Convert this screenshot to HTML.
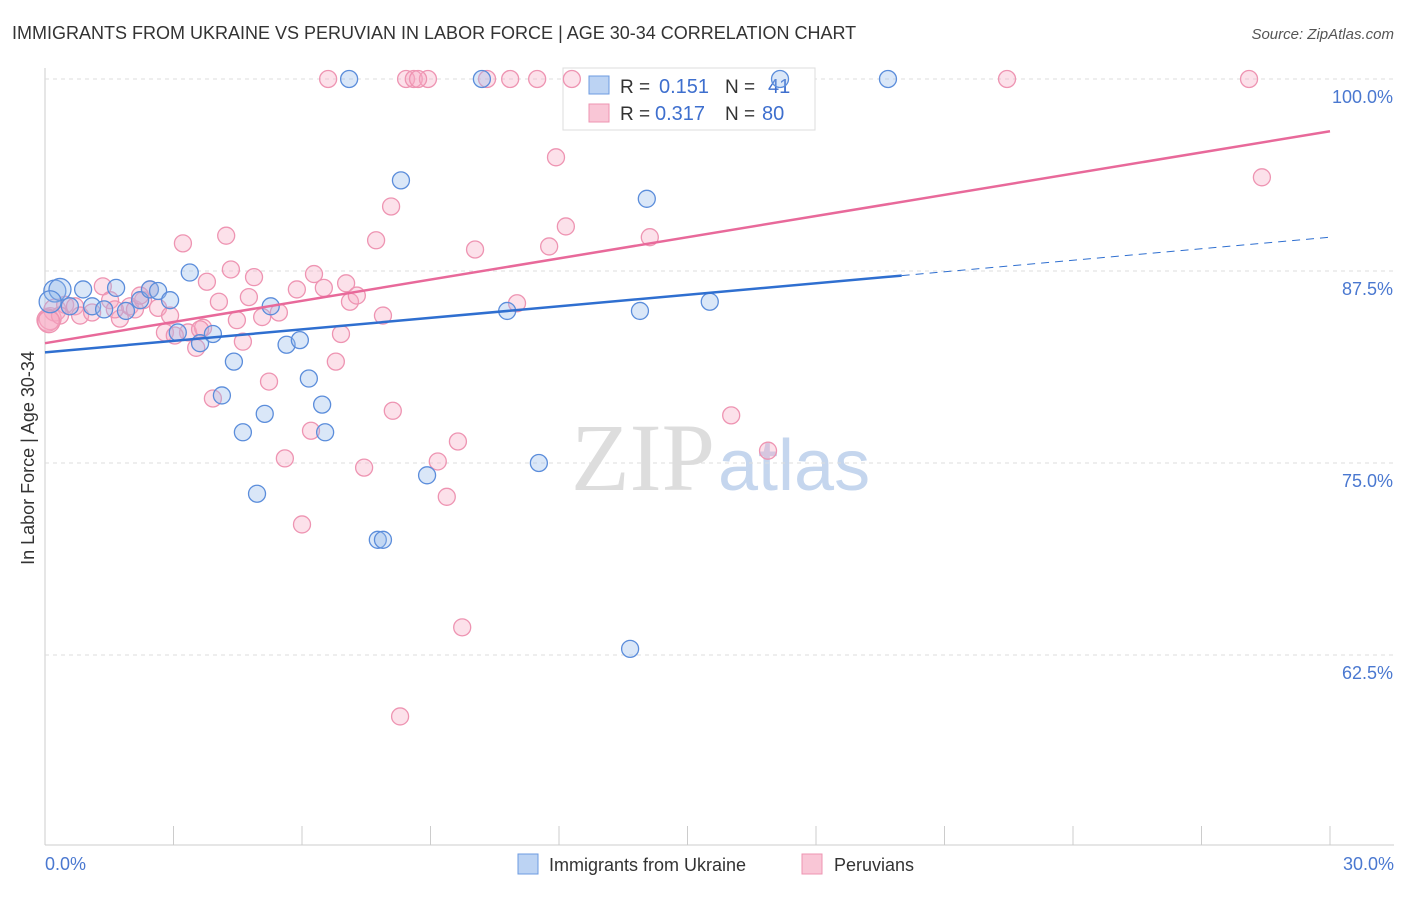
<!DOCTYPE html>
<html><head><meta charset="utf-8"><style>
body{margin:0;background:#fff;font-family:"Liberation Sans",sans-serif}
</style></head><body>
<svg id="c" width="1406" height="892" xmlns="http://www.w3.org/2000/svg">
<text x="12" y="39" font-size="18" fill="#333">IMMIGRANTS FROM UKRAINE VS PERUVIAN IN LABOR FORCE | AGE 30-34 CORRELATION CHART</text>
<text x="1394" y="39" font-size="15" fill="#555" font-style="italic" text-anchor="end">Source: ZipAtlas.com</text>
<text x="715" y="490" font-size="96" fill="#ddd" text-anchor="end" font-family="Liberation Serif">ZIP</text>
<text x="718" y="490" font-size="72" fill="#c5d6ee">atlas</text>
<g id="grid"></g>
<g>
<rect x="563" y="68" width="252" height="62" fill="#fff" stroke="#ddd"/>
<rect x="589" y="76" width="20" height="18" fill="#bcd3f3" stroke="#6d9be0"/>
<rect x="589" y="104" width="20" height="18" fill="#f9c6d6" stroke="#ee94b2"/>
<text x="620" y="93" font-size="19" fill="#333">R =</text>
<text x="659" y="93" font-size="20" fill="#3e6fce">0.151</text>
<text x="725" y="93" font-size="19" fill="#333">N =</text>
<text x="768" y="93" font-size="20" fill="#3e6fce">41</text>
<text x="620" y="120" font-size="19" fill="#333">R =</text>
<text x="655" y="120" font-size="20" fill="#3e6fce">0.317</text>
<text x="725" y="120" font-size="19" fill="#333">N =</text>
<text x="762" y="120" font-size="20" fill="#3e6fce">80</text>
</g>
<g id="pts"></g><g id="lines"></g>
<text transform="translate(34,458) rotate(-90)" font-size="18" fill="#333" text-anchor="middle">In Labor Force | Age 30-34</text>
<text x="45" y="870" font-size="18" fill="#4a78d0">0.0%</text>
<text x="1394" y="870" font-size="18" fill="#4a78d0" text-anchor="end">30.0%</text>
<g>
<rect x="518" y="854" width="20" height="20" fill="#bcd3f3" stroke="#6d9be0"/>
<text x="549" y="871" font-size="18" fill="#333">Immigrants from Ukraine</text>
<rect x="802" y="854" width="20" height="20" fill="#f9c6d6" stroke="#ee94b2"/>
<text x="834" y="871" font-size="18" fill="#333">Peruvians</text>
</g>
</svg>
<script>
const yTicks=[100,87.5,75,62.5];
const xTickCount=10;
const ukraineX=[0.23,0.35,0.58,0.89,1.10,1.38,1.66,1.89,2.22,2.45,2.64,2.92,3.10,3.38,3.62,3.92,4.13,4.41,4.62,4.95,5.13,5.27,5.64,5.95,6.16,6.47,6.54,7.1,7.77,7.89,8.31,8.92,10.2,10.79,11.53,13.66,13.89,14.05,15.52,17.16,19.68,0.12];
const ukraineY=[86.2,86.3,85.2,86.3,85.2,85.0,86.4,84.9,85.6,86.3,86.2,85.6,83.5,87.4,82.8,83.4,79.4,81.6,77.0,73.0,78.2,85.2,82.7,83.0,80.5,78.8,77.0,100,70.0,70.0,93.4,74.2,100,84.9,75.0,62.9,84.9,92.2,85.5,100,100,85.5];
const peruX=[0.12,0.23,0.47,0.70,0.82,1.10,1.35,1.52,1.75,1.98,2.10,2.29,2.45,2.64,2.80,2.92,3.22,3.34,3.53,3.69,3.78,3.92,4.06,4.23,4.34,4.48,4.62,4.76,4.88,5.07,5.23,5.46,5.60,5.88,6.00,6.21,6.28,6.51,6.61,6.79,6.91,7.03,7.12,7.28,7.45,7.73,7.89,8.08,8.12,8.29,8.43,8.61,8.94,9.17,9.38,9.64,9.74,10.04,10.32,10.86,11.02,11.49,11.77,11.93,12.16,12.30,14.12,16.02,16.88,22.46,28.11,28.41,0.07,0.35,1.63,2.22,3.03,3.62,8.71,0.09];
const peruY=[84.4,84.96,85.3,85.2,84.6,84.8,86.5,85.6,84.4,85.2,85.0,85.6,86.3,85.1,83.5,84.6,89.3,83.5,82.5,83.8,86.8,79.2,85.5,89.8,87.6,84.3,82.9,85.8,87.1,84.5,80.3,84.8,75.3,86.3,71.0,77.1,87.3,86.4,100,81.6,83.4,86.7,85.5,85.9,74.7,89.5,84.6,91.7,78.4,58.5,100,100,100,75.1,72.8,76.4,64.3,88.9,100,100,85.4,100,89.1,94.9,90.4,100,89.7,78.1,75.8,100,100,93.6,84.3,84.6,85.0,85.9,83.3,83.7,100,84.2];
const X0=45,X1=1330,Y100=79,PX=15.36;
const sx=v=>X0+(v/30)*(X1-X0), sy=v=>Y100+(100-v)*PX;
const NS="http://www.w3.org/2000/svg";
function mk(t,a,p){const e=document.createElementNS(NS,t);for(const k in a)e.setAttribute(k,a[k]);p.appendChild(e);return e;}
const g=document.getElementById('grid');
mk('line',{x1:45,y1:68,x2:45,y2:845,stroke:'#ccc'},g);
mk('line',{x1:45,y1:845,x2:1394,y2:845,stroke:'#ccc'},g);
yTicks.forEach(t=>{const l=mk('line',{x1:45,y1:sy(t),x2:1394,y2:sy(t),stroke:'#ddd','stroke-dasharray':'4,4'},g);


const tx=mk('text',{x:1393,y:sy(t)+24,'font-size':18,fill:'#4a78d0','text-anchor':'end'},g);tx.textContent=t.toFixed(1)+'%';

});
for(let i=0;i<=xTickCount;i++){const x=sx(i*30/xTickCount);const l=mk('line',{x1:x,y1:826,x2:x,y2:845,stroke:'#ccc'},g);

}
const p=document.getElementById('pts');
peruX.forEach((v,i)=>{const c=mk('circle',{cx:sx(v),cy:sy(peruY[i]),r:(i<2||i==72||i==79)?11:8.5,fill:'rgba(246,170,195,0.35)',stroke:'#ee94b2','stroke-width':1.3},p);

});
ukraineX.forEach((v,i)=>{const c=mk('circle',{cx:sx(v),cy:sy(ukraineY[i]),r:(i<2||i==41)?11:8.5,fill:'rgba(150,185,235,0.35)',stroke:'#5b8ddb','stroke-width':1.3},p);

});
const L=document.getElementById('lines');
const bl=[82.2,87.2,89.7],pl=[82.8,96.6];
let e=mk('line',{x1:sx(0),y1:sy(bl[0]),x2:sx(20),y2:sy(bl[1]),stroke:'#2f6fd0','stroke-width':2.5},L);

e=mk('line',{x1:sx(20),y1:sy(bl[1]),x2:sx(30),y2:sy(bl[2]),stroke:'#2f6fd0','stroke-width':1,'stroke-dasharray':'8,6'},L);

e=mk('line',{x1:sx(0),y1:sy(pl[0]),x2:sx(30),y2:sy(pl[1]),stroke:'#e8699a','stroke-width':2.5},L);

</script>
</body></html>
